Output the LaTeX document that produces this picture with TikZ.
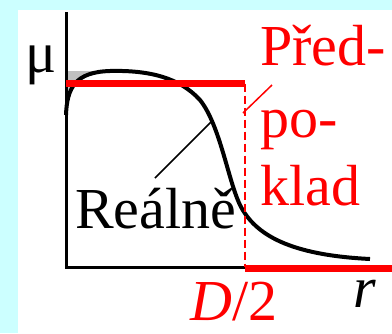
\documentclass[tikz,border=0pt]{standalone}
\usepackage{fontspec}
\newfontfamily\timesf{Liberation Serif}
\definecolor{bgcyan}{RGB}{204,255,255}
\definecolor{fillgray}{RGB}{192,192,192}
\newcommand{\lblfont}{\timesf\fontsize{58}{60}\selectfont}
\begin{document}
\begin{tikzpicture}[x=1pt,y=-1pt,
  lbl/.style={anchor=base west,inner sep=0pt},
  axis/.style={line width=3pt,black},
  redthick/.style={line width=7pt,red},
  curve/.style={line width=4pt,black},
  leader/.style={line width=1.5pt}]
\fill[bgcyan] (0,0) rectangle (392,333);
\fill[white] (18,10) rectangle (392,333);
\useasboundingbox (0,0) rectangle (392,333);
% gray area
\fill[fillgray] (66,71) -- (66,115) .. controls (67,88) and (75,72) .. (110,71) -- cycle;
% axes
\coordinate (ytop) at (66,12);
\coordinate (orig) at (66,267);
\coordinate (xmid) at (245,267);
\draw[axis] (ytop) -- (orig) -- (xmid);
% real curve
\draw[curve] (66,115) .. controls (67,88) and (75,72) .. (110,71)
  .. controls (150,70) and (180,78) .. (200,100)
  .. controls (220,125) and (228,180) .. (240,205)
  .. controls (255,235) and (290,255) .. (370,259);
% assumption
\coordinate (tl) at (66,83.5);
\coordinate (tr) at (245,83.5);
\coordinate (bl) at (245,268);
\coordinate (br) at (392,268);
\draw[redthick] (tl) -- (tr);
\draw[red,line width=2pt,dash pattern=on 8pt off 4pt] (tr) -- (245,267);
\draw[redthick] (bl) -- (br);
% labels
\node[lbl] (mu) at (25,72) {\lblfont μ};
\node[lbl,text=red] (pred1) at (260,65) {\lblfont Před-};
\node[lbl,text=red] (pred2) at (260,137) {\lblfont po-};
\node[lbl,text=red] (pred3) at (260,205) {\lblfont klad};
\node[lbl] (real) at (75,228) {\lblfont Reálně};
\node[lbl,text=red] (d2) at (190,320) {\lblfont\itshape D\/\upshape/2};
\node[lbl] (r) at (353,307) {\lblfont\itshape r};
% leaders
\coordinate (realend) at (213,120);
\coordinate (predend) at (243,113);
\draw[leader] (155,178) -- (realend);
\draw[leader,red] (272,85) -- (predend);
\end{tikzpicture}
\end{document}
